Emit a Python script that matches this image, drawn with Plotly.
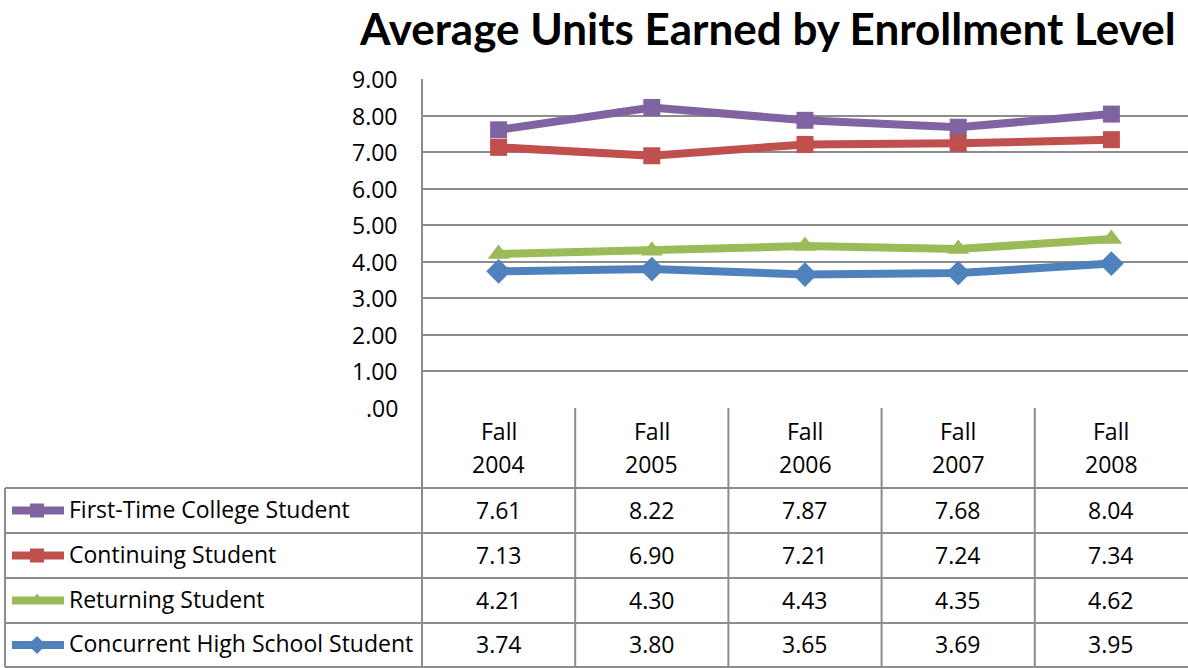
import plotly.graph_objects as go

W, H = 1188, 668

categories = ["Fall 2004", "Fall 2005", "Fall 2006", "Fall 2007", "Fall 2008"]
series_names = ["First-Time College Student", "Continuing Student",
                "Returning Student", "Concurrent High School Student"]
first_time = [7.61, 8.22, 7.87, 7.68, 8.04]
continuing = [7.13, 6.90, 7.21, 7.24, 7.34]
returning = [4.21, 4.30, 4.43, 4.35, 4.62]
concurrent = [3.74, 3.80, 3.65, 3.69, 3.95]
y_ticks = [0, 1, 2, 3, 4, 5, 6, 7, 8, 9]

series_values = [first_time, continuing, returning, concurrent]
colors = ["#8064A2", "#C0504D", "#9BBB59", "#4F81BD"]
symbols = ["square", "square", "triangle-up", "diamond"]
msizes = [17, 17, 19, 19]

FONT = "Open Sans"
TFONT = "Lato"
FS = 23
GRID = "#8C8C8C"

def px(x):
    return x / W

def py(y):
    return 1 - y / H

plot_left, plot_right, plot_top, plot_bottom = 422, 1188, 79, 408
row_lines = [488, 533, 578, 623, 667]
table_left = 5

fig = go.Figure()
xi = list(range(len(categories)))
for name, vals, c, s, ms in zip(series_names, series_values, colors, symbols, msizes):
    fig.add_trace(go.Scatter(x=xi, y=vals, mode="lines+markers", name=name,
                             line=dict(color=c, width=8),
                             marker=dict(color=c, symbol=s, size=ms),
                             showlegend=False, hoverinfo="skip"))

shapes = []
for r in row_lines:
    shapes.append(dict(type="line", xref="paper", yref="paper",
                       x0=px(table_left), x1=1, y0=py(r), y1=py(r),
                       line=dict(color=GRID, width=2)))
shapes.append(dict(type="line", xref="paper", yref="paper",
                   x0=px(table_left), x1=px(table_left), y0=py(row_lines[0]), y1=py(row_lines[-1]),
                   line=dict(color=GRID, width=2)))
shapes.append(dict(type="line", xref="paper", yref="paper",
                   x0=px(plot_left), x1=px(plot_left), y0=py(plot_top), y1=py(row_lines[-1]),
                   line=dict(color=GRID, width=2)))
for k in range(1, len(categories)):
    shapes.append(dict(type="line", xref="x", yref="paper",
                       x0=k - 0.5, x1=k - 0.5, y0=py(plot_bottom), y1=py(row_lines[-1]),
                       line=dict(color=GRID, width=2)))

annotations = []
annotations.append(dict(text="<b>Average Units Earned by Enrollment Level</b>",
                        xref="paper", yref="paper", x=px(767), y=1,
                        xanchor="center", yanchor="top", showarrow=False,
                        font=dict(family=TFONT, size=44, color="black")))
for v in y_ticks:
    label = f"{v:.2f}"
    if label.startswith("0"):
        label = label[1:]
    annotations.append(dict(text=label, xref="paper", yref="y", x=px(400), y=v,
                            xanchor="right", yanchor="middle", showarrow=False,
                            font=dict(family=FONT, size=FS, color="black")))
for i, cat in enumerate(categories):
    parts = cat.split(" ")
    annotations.append(dict(text=parts[0], xref="x", yref="paper", x=i, y=py(431),
                            xanchor="center", yanchor="middle", showarrow=False,
                            font=dict(family=FONT, size=FS, color="black")))
    annotations.append(dict(text=parts[1], xref="x", yref="paper", x=i, y=py(464),
                            xanchor="center", yanchor="middle", showarrow=False,
                            font=dict(family=FONT, size=FS, color="black")))
for r, (name, vals, c, s) in enumerate(zip(series_names, series_values, colors, symbols)):
    yc = (row_lines[r] + row_lines[r + 1]) / 2
    annotations.append(dict(text=name, xref="paper", yref="paper", x=px(67), y=py(yc - 2),
                            xanchor="left", yanchor="middle", showarrow=False,
                            font=dict(family=FONT, size=FS, color="black")))
    for i, v in enumerate(vals):
        annotations.append(dict(text=f"{v:.2f}", xref="x", yref="paper", x=i, y=py(yc - 1),
                                xanchor="center", yanchor="middle", showarrow=False,
                                font=dict(family=FONT, size=FS, color="black")))
    fig.add_trace(go.Scatter(x=[12, 64], y=[H - yc, H - yc], xaxis="x2", yaxis="y2",
                             mode="lines", line=dict(color=c, width=8),
                             showlegend=False, hoverinfo="skip"))
    fig.add_trace(go.Scatter(x=[37], y=[H - yc], xaxis="x2", yaxis="y2",
                             mode="markers", marker=dict(color=c, symbol=s, size=14),
                             showlegend=False, hoverinfo="skip"))

fig.update_layout(
    width=W, height=H, margin=dict(l=0, r=0, t=0, b=0),
    paper_bgcolor="white", plot_bgcolor="rgba(0,0,0,0)",
    showlegend=False,
    xaxis=dict(domain=[px(plot_left), 1], range=[-0.5, len(categories) - 0.5],
               showticklabels=False, showgrid=False, zeroline=False, ticks=""),
    yaxis=dict(domain=[py(plot_bottom), py(plot_top)], range=[0, 9],
               tickvals=y_ticks, showticklabels=False, showgrid=True,
               gridcolor=GRID, gridwidth=2, zeroline=False),
    xaxis2=dict(domain=[0, 1], range=[0, W], visible=False, anchor="y2"),
    yaxis2=dict(domain=[0, 1], range=[0, H], visible=False, anchor="x2"),
    shapes=shapes, annotations=annotations,
)

fig.write_html("out.html", config={"displayModeBar": False},
               post_script="document.body.style.margin='0';document.body.style.overflow='hidden';")
